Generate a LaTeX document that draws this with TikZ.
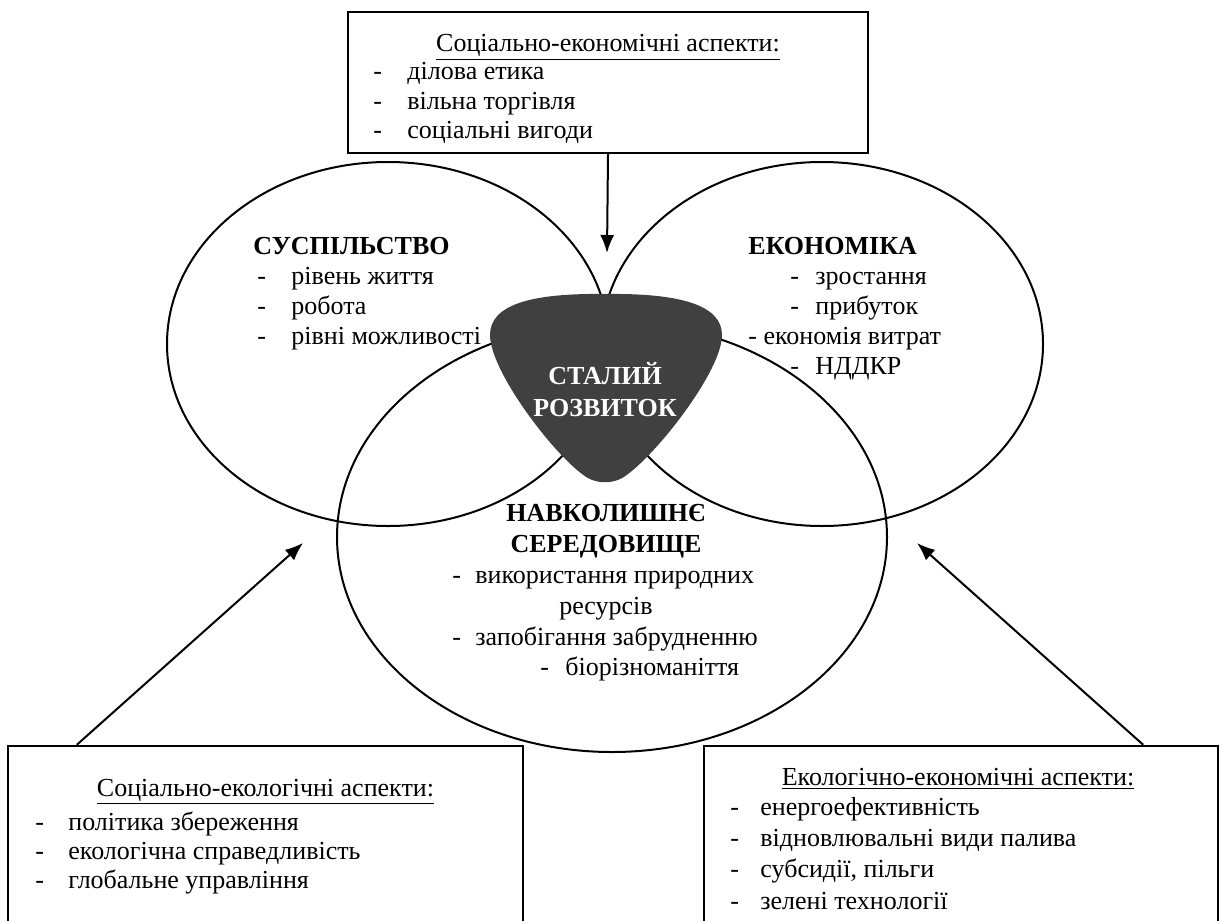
\documentclass[tikz,border=0pt]{standalone}
\usepackage{fontspec}
\setmainfont{Liberation Serif}
\usetikzlibrary{calc,arrows.meta}

\definecolor{pickgray}{HTML}{404040}
% dash of a list line, then the gap to its text
\newcommand{\itm}[1][17pt]{\makebox[#1][l]{-}}

\begin{document}
\begin{tikzpicture}[x=0.5pt,y=-0.5pt,
        font=\fontsize{13}{14.5}\selectfont,
        aspectbox/.style={draw,line width=1.2pt,rectangle,inner sep=0pt},
        txt/.style={anchor=base west,inner sep=0pt},
        ctxt/.style={anchor=base,inner sep=0pt},
        pointer/.style={line width=1pt,-{Latex[length=9pt,width=7pt]}}]

        % Page frame, the two lower boxes run over its bottom edge
        \useasboundingbox (0,0) rectangle (1224,920);
        \clip (0,0) rectangle (1224,920);

        % Radii of the two upper circles
        \pgfmathsetmacro{\rx}{221}
        \pgfmathsetmacro{\ry}{182}

        \coordinate (S) at (388,344);
        \coordinate (E) at (822,344);
        \coordinate (N) at (612,537);

        \begin{scope}[line width=1pt]
            \draw (S) ellipse ({\rx} and {\ry});
            \draw (E) ellipse ({\rx} and {\ry});
            \draw (N) ellipse (275 and 215);
        \end{scope}

        % Society
        \node (soc) at (253,254) [txt] {\textbf{СУСПІЛЬСТВО}};
        \node (soc1) at (257,284) [txt] {\itm рівень життя};
        \node (soc2) at (257,314) [txt] {\itm робота};
        \node (soc3) at (257,344) [txt] {\itm рівні можливості};

        % Economy
        \node (eco) at (748,254) [txt] {\textbf{ЕКОНОМІКА}};
        \node (eco1) at (790,284) [txt] {\itm[12.5pt]зростання};
        \node (eco2) at (790,314) [txt] {\itm[12.5pt]прибуток};
        \node (eco3) at (748,344) [txt] {- економія витрат};
        \node (eco4) at (790,374) [txt] {\itm[12.5pt]НДДКР};

        % Environment
        \node (env) at (606,521) [ctxt] {\textbf{НАВКОЛИШНЄ}};
        \node (env0) at (606,552) [ctxt] {\textbf{СЕРЕДОВИЩЕ}};
        \node (env1) at (452,583) [txt] {\itm[11.5pt]використання природних};
        \node (env1b) at (606,614) [ctxt] {ресурсів};
        \node (env2) at (452,645) [txt] {\itm[11.5pt]запобігання забрудненню};
        \node (env3) at (540,675) [txt] {\itm[12.5pt]біорізноманіття};

        % Core in the middle, drawn over the circle lines
        \fill[pickgray] (605,294) .. controls (680,293) and (722,305) .. (722,335)
            .. controls (722,370) and (660,450) .. (628,474)
            .. controls (615,485) and (595,485) .. (582,474)
            .. controls (550,450) and (490,370) .. (490,335)
            .. controls (490,305) and (530,293) .. (605,294) -- cycle;
        \node (core1) at (605,384) [ctxt,text=white] {\textbf{СТАЛИЙ}};
        \node (core2) at (605,416) [ctxt,text=white] {\textbf{РОЗВИТОК}};

        % Boxes with the aspects
        \node (topbox) at (608,82.5) [aspectbox,minimum width=260pt,minimum height=70.5pt] {};
        \node (lbox) at (265.5,853) [aspectbox,minimum width=257.5pt,minimum height=107pt] {};
        \node (rbox) at (961,853) [aspectbox,minimum width=257pt,minimum height=107pt] {};

        \node (tophead) at (608,52) [ctxt] {\underline{Соціально-економічні аспекти:}};
        \node (top1) at (373,80) [txt] {\itm ділова етика};
        \node (top2) at (373,110) [txt] {\itm вільна торгівля};
        \node (top3) at (373,138) [txt] {\itm соціальні вигоди};

        \node (lhead) at (265.5,796) [ctxt] {\underline{Соціально-екологічні аспекти:}};
        \node (l1) at (35,830) [txt] {\itm[16.5pt]політика збереження};
        \node (l2) at (35,859) [txt] {\itm[16.5pt]екологічна справедливість};
        \node (l3) at (35,888) [txt] {\itm[16.5pt]глобальне управління};

        \node (rhead) at (958,785) [ctxt] {\underline{Екологічно-економічні аспекти:}};
        \node (r1) at (730,815) [txt] {\itm[15pt]енергоефективність};
        \node (r2) at (730,846) [txt] {\itm[15pt]відновлювальні види палива};
        \node (r3) at (730,877) [txt] {\itm[15pt]субсидії, пільги};
        \node (r4) at (730,909) [txt] {\itm[15pt]зелені технології};

        % Arrows from the boxes to the circles
        \coordinate (topTip) at (607,253);
        \coordinate (lTip) at (303,543);
        \coordinate (rTip) at (917,543);

        \draw[pointer] (topbox.south) -- (topTip);
        \draw[pointer] ($(lbox.north west)+(70,0)$) -- (lTip);
        \draw[pointer] ($(rbox.north east)-(76,0)$) -- (rTip);

\end{tikzpicture}
\end{document}
